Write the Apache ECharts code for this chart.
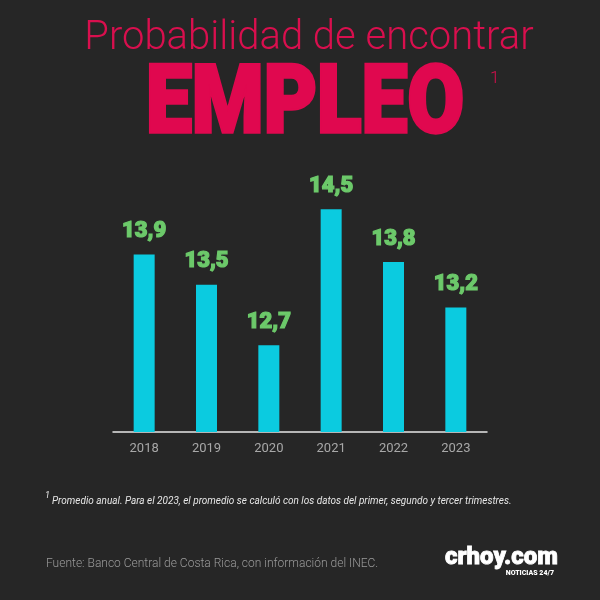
<!DOCTYPE html>
<html><head><meta charset="utf-8">
<script src="https://cdn.jsdelivr.net/npm/echarts@6/dist/echarts.min.js"></script>
<style>html,body{margin:0;padding:0;background:#262626;}#c{width:600px;height:600px;}</style>
</head><body><div id="c"></div>
<script>
const categories = ['2018','2019','2020','2021','2022','2023'];
const values = [13.9, 13.5, 12.7, 14.5, 13.8, 13.2];
const titleLine1 = 'Probabilidad de encontrar';
const titleLine2 = 'EMPLEO';
const footnote = 'Promedio anual. Para el 2023, el promedio se calculó con los datos del primer, segundo y tercer trimestres.';
const source = 'Fuente: Banco Central de Costa Rica, con información del INEC.';

const chart = echarts.init(document.getElementById('c'));
chart.setOption({
  backgroundColor: '#262626',
  animation: false,
  grid: {left: 113, width: 374, top: 171.5, bottom: 168},
  xAxis: {
    type: 'category', data: categories,
    axisLine: {lineStyle: {color: '#e6e6e6', width: 1.5}},
    axisTick: {show: false},
    axisLabel: {color: '#a8a8a8', fontSize: 13, fontFamily: 'Roboto', margin: 10}
  },
  yAxis: {type: 'value', min: 11.55, max: 15, show: false, splitLine: {show: false}},
  series: [{
    type: 'bar', data: values, barWidth: 21,
    itemStyle: {color: '#0bcbe0'},
    label: {
      show: true, position: 'top', distance: 12,
      color: '#6cc96a', fontFamily: 'Roboto', fontWeight: 900, fontSize: 22,
      textBorderColor: '#6cc96a', textBorderWidth: 1.2,
      formatter: p => String(p.value).replace('.', ',')
    }
  }],
  graphic: [
    {type: 'text', x: 309, y: 19, style: {text: titleLine1, fill: '#d90f4e', font: '300 40px Roboto', textAlign: 'center'}},
    {type: 'text', x: 305, y: 61.5, scaleY: 1.15,
      style: {text: titleLine2, fill: '#e0084f', font: '900 82px Roboto', textAlign: 'center',
        stroke: '#e0084f', lineWidth: 3}},
    {type: 'text', x: 490, y: 70, style: {text: '1', fill: '#d90f4e', font: '300 17px Roboto'}},
    {type: 'text', x: 45, y: 491, style: {text: '1', fill: '#e6e6e6', font: 'italic 9px Roboto'}},
    {type: 'text', x: 52, y: 496, style: {text: footnote, fill: '#e6e6e6', font: 'italic 10px Roboto'}},
    {type: 'text', x: 46, y: 558, style: {text: source, fill: '#9a9a9a', font: '300 12px Roboto'}},
    {type: 'text', x: 445, y: 546, style: {text: 'crhoy.com', fill: '#ffffff', font: '900 24px Roboto',
        stroke: '#ffffff', lineWidth: 0.8}},
    {type: 'text', x: 554, y: 570, style: {text: 'NOTICIAS 24/7', fill: '#ffffff', font: '900 7px Roboto', textAlign: 'right'}}
  ]
});
</script></body></html>
